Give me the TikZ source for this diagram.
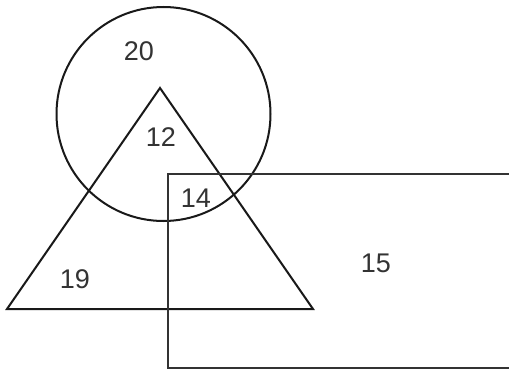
\documentclass[tikz,border=0pt]{standalone}
\usepackage{fontspec}
\setmainfont{Liberation Sans}
\begin{document}
\begin{tikzpicture}[x=1pt,y=-1pt,
  shapeline/.style={draw=black!90,line width=2pt},
  num/.style={font=\fontsize{27}{30}\selectfont,text=black!80,inner sep=0pt}]
\useasboundingbox (0,0) rectangle (509,372);
\clip (0,0) rectangle (509,372);
\fill[white] (0,0) rectangle (509,372);
\node[shapeline,circle,minimum size=214pt,inner sep=0pt] (circ) at (163.5,114) {};
\coordinate (apex) at (160,88);
\coordinate (bl) at (7,309);
\coordinate (br) at (313,309);
\draw[shapeline,line join=miter] (apex) -- (bl) -- (br) -- cycle;
\coordinate (rtl) at (168,174);
\coordinate (rbr) at (515,368);
\draw[shapeline,draw=black!80] (rtl) rectangle (rbr);
\node[num] (n20) at (139,51) {20};
\node[num] (n12) at (161,137) {12};
\node[num] (n14) at (196,198) {14};
\node[num] (n19) at (75,279) {19};
\node[num] (n15) at (376,263) {15};
\end{tikzpicture}
\end{document}
